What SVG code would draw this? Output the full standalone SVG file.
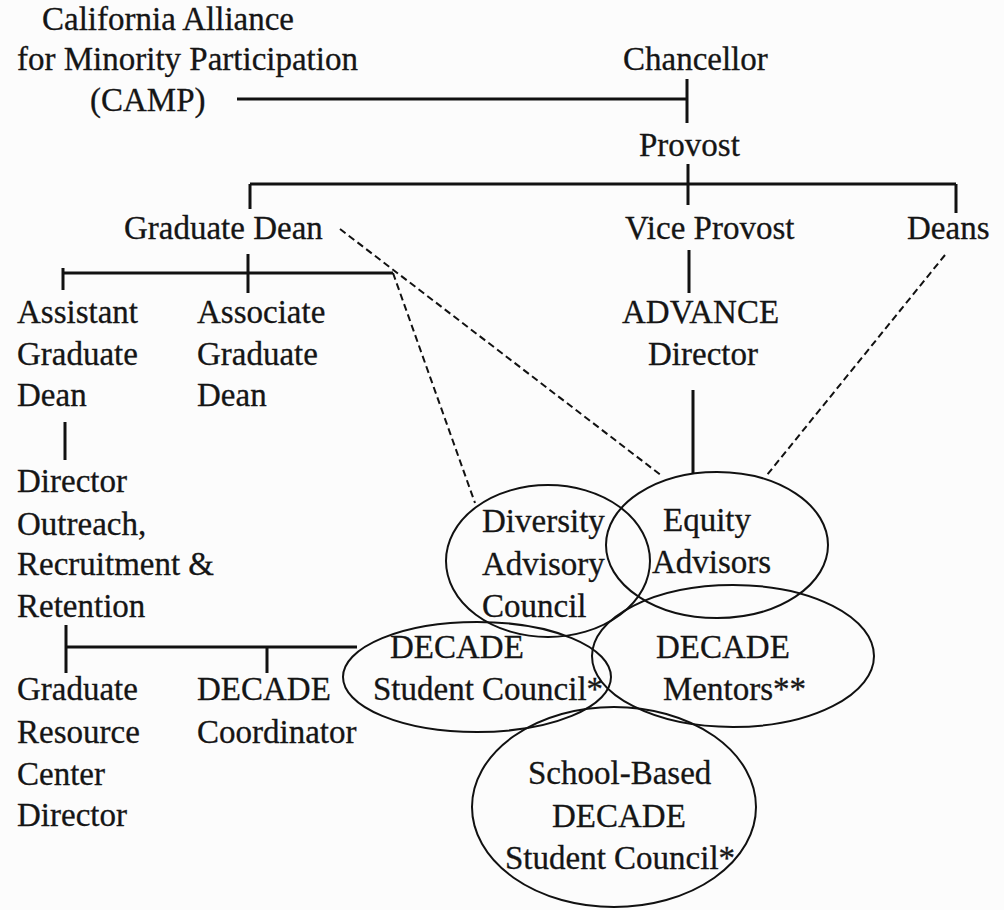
<svg xmlns="http://www.w3.org/2000/svg" width="1004" height="910" viewBox="0 0 1004 910">
  <style>
    text { font-family: "Liberation Serif", "Times New Roman", serif; font-size: 33px; fill: #151515; stroke: #151515; stroke-width: 0.3; }
    .solid { stroke: #111; stroke-width: 3; fill: none; }
    .dash { stroke: #111; stroke-width: 2; fill: none; stroke-dasharray: 7 4; }
    .ring { stroke: #111; stroke-width: 2; fill: none; }
  </style>
  <rect width="1004" height="910" fill="#fcfcfc"/>

  <!-- reporting lines and advisory links -->
  <g id="connectors">
    <path class="solid" d="M237 99 H687 M687 79 V123"/>
    <path class="solid" d="M688 164 V205 M250 184 H956 M250 184 V209 M956 184 V213"/>
    <path class="solid" d="M689 250 V293"/>
    <path class="solid" d="M248 254 V293 M63 273 H393 M63 268 V290"/>
    <path class="solid" d="M65 422 V460"/>
    <path class="solid" d="M66 625 V673 M66 647 H357 M267 647 V673"/>
    <path class="solid" d="M693 390 V473"/>
    <path class="dash" d="M340 229 L662 476"/>
    <path class="dash" d="M393 273 L475 503"/>
    <path class="dash" d="M945 255 L767 475"/>
  </g>

  <g id="camp">
    <text x="42" y="30">California Alliance</text>
    <text x="17" y="70">for Minority Participation</text>
    <text x="90" y="111">(CAMP)</text>
  </g>
  <g id="chancellor"><text x="623" y="70">Chancellor</text></g>
  <g id="provost"><text x="639" y="156">Provost</text></g>
  <g id="graduate-dean"><text x="124" y="239">Graduate Dean</text></g>
  <g id="vice-provost"><text x="625" y="239">Vice Provost</text></g>
  <g id="deans"><text x="907" y="239">Deans</text></g>
  <g id="assistant-graduate-dean">
    <text x="17" y="323">Assistant</text>
    <text x="17" y="365">Graduate</text>
    <text x="17" y="406">Dean</text>
  </g>
  <g id="associate-graduate-dean">
    <text x="197" y="323">Associate</text>
    <text x="197" y="365">Graduate</text>
    <text x="197" y="406">Dean</text>
  </g>
  <g id="advance-director">
    <text x="622" y="323">ADVANCE</text>
    <text x="648" y="365">Director</text>
  </g>
  <g id="director-outreach">
    <text x="17" y="492">Director</text>
    <text x="17" y="535">Outreach,</text>
    <text x="17" y="575">Recruitment &amp;</text>
    <text x="17" y="617">Retention</text>
  </g>
  <g id="grc-director">
    <text x="17" y="700">Graduate</text>
    <text x="17" y="743">Resource</text>
    <text x="17" y="785">Center</text>
    <text x="17" y="826">Director</text>
  </g>
  <g id="decade-coordinator">
    <text x="197" y="700">DECADE</text>
    <text x="197" y="743">Coordinator</text>
  </g>

  <g id="diversity-advisory-council">
    <ellipse class="ring" cx="548" cy="561" rx="102" ry="76"/>
    <text x="482" y="532">Diversity</text>
    <text x="482" y="575">Advisory</text>
    <text x="482" y="617">Council</text>
  </g>
  <g id="equity-advisors">
    <ellipse class="ring" cx="717" cy="545" rx="111" ry="73"/>
    <text x="663" y="531">Equity</text>
    <text x="652" y="573">Advisors</text>
  </g>
  <g id="decade-student-council">
    <ellipse class="ring" cx="477" cy="677" rx="134" ry="55"/>
    <text x="390" y="658">DECADE</text>
    <text x="373" y="700">Student Council*</text>
  </g>
  <g id="decade-mentors">
    <ellipse class="ring" cx="733" cy="656" rx="141" ry="71"/>
    <text x="656" y="658">DECADE</text>
    <text x="663" y="700">Mentors**</text>
  </g>
  <g id="school-based-council">
    <ellipse class="ring" cx="614" cy="807" rx="142" ry="100"/>
    <text x="528" y="784">School-Based</text>
    <text x="552" y="827">DECADE</text>
    <text x="505" y="869">Student Council*</text>
  </g>
</svg>
